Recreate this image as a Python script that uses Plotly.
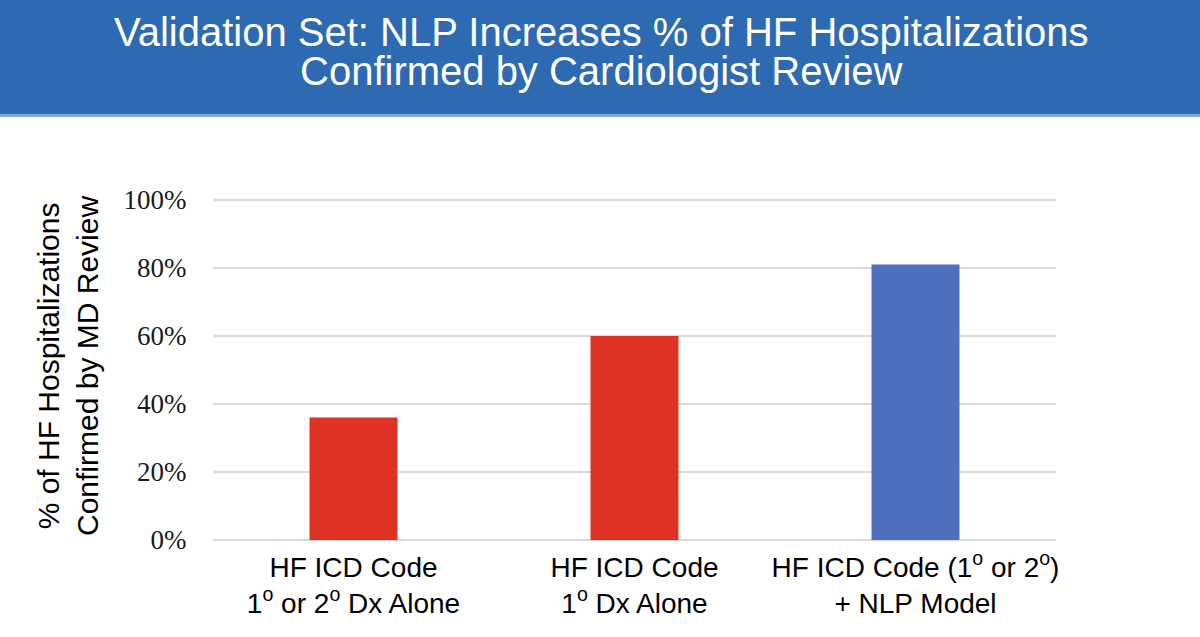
import plotly.graph_objects as go

categories = [
    "HF ICD Code<br>1<sup>o</sup> or 2<sup>o</sup> Dx Alone",
    "HF ICD Code<br>1<sup>o</sup> Dx Alone",
    "HF ICD Code (1<sup>o</sup> or 2<sup>o</sup>)<br>+ NLP Model",
]
values = [0.36, 0.60, 0.81]
bar_colors = ["#E03222", "#E03222", "#4E70BE"]
y_ticks = [0, 0.2, 0.4, 0.6, 0.8, 1.0]
y_tick_labels = ["0%", "20%", "40%", "60%", "80%", "100%"]

title_lines = ["Validation Set: NLP Increases % of HF Hospitalizations",
               "Confirmed by Cardiologist Review"]
ytitle_text = "% of HF Hospitalizations<br>Confirmed by MD Review"

W, H = 1200, 637
ml, mr, mt, mb = 213, 144, 199, 97
pw = W - ml - mr
ph = H - mt - mb


def px_x(x):
    return (x - ml) / pw


def px_y(y):
    return (H - mb - y) / ph


fig = go.Figure()
fig.add_trace(go.Bar(
    x=categories,
    y=values,
    marker=dict(color=bar_colors, line=dict(width=0)),
    hoverinfo="skip",
))

# title banner
fig.add_shape(type="rect", xref="paper", yref="paper",
              x0=px_x(-2), x1=px_x(W + 2), y0=px_y(114), y1=px_y(-2),
              fillcolor="#2E6AB1", line=dict(width=0), layer="below")
fig.add_shape(type="rect", xref="paper", yref="paper",
              x0=px_x(-2), x1=px_x(W + 2), y0=px_y(117), y1=px_y(114),
              fillcolor="#7FA6D6", line=dict(width=0), layer="below")

for line, ypix in zip(title_lines, [32, 71]):
    fig.add_annotation(text=line, xref="paper", yref="paper",
                       x=px_x(601), y=px_y(ypix), xanchor="center", yanchor="middle",
                       showarrow=False, align="center",
                       font=dict(family="Liberation Sans", size=40, color="white"))

fig.add_annotation(text=ytitle_text, xref="paper", yref="paper",
                   x=px_x(68), y=px_y(366), xanchor="center", yanchor="middle",
                   textangle=-90, showarrow=False, align="center",
                   font=dict(family="Liberation Sans", size=30, color="black"))

fig.update_layout(
    width=W, height=H,
    margin=dict(l=ml, r=mr, t=mt, b=mb),
    paper_bgcolor="white", plot_bgcolor="white",
    bargap=0.687,
    showlegend=False,
)
fig.update_xaxes(
    showgrid=False, showline=False, zeroline=False,
    ticks="outside", ticklen=2, tickcolor="rgba(0,0,0,0)",
    tickfont=dict(family="Liberation Sans", size=28, color="black"),
)
fig.update_yaxes(
    range=[0, 1.003],
    tickvals=y_ticks, ticktext=y_tick_labels,
    showgrid=True, gridcolor="#D9D9D9", gridwidth=2,
    zeroline=True, zerolinecolor="#D9D9D9", zerolinewidth=2,
    showline=False,
    ticks="outside", ticklen=20, tickcolor="rgba(0,0,0,0)",
    tickfont=dict(family="Liberation Serif", size=27, color="#1a1a1a"),
)

fig.write_html("out.html", config={"displayModeBar": False},
               post_script="document.body.style.margin='0';")
